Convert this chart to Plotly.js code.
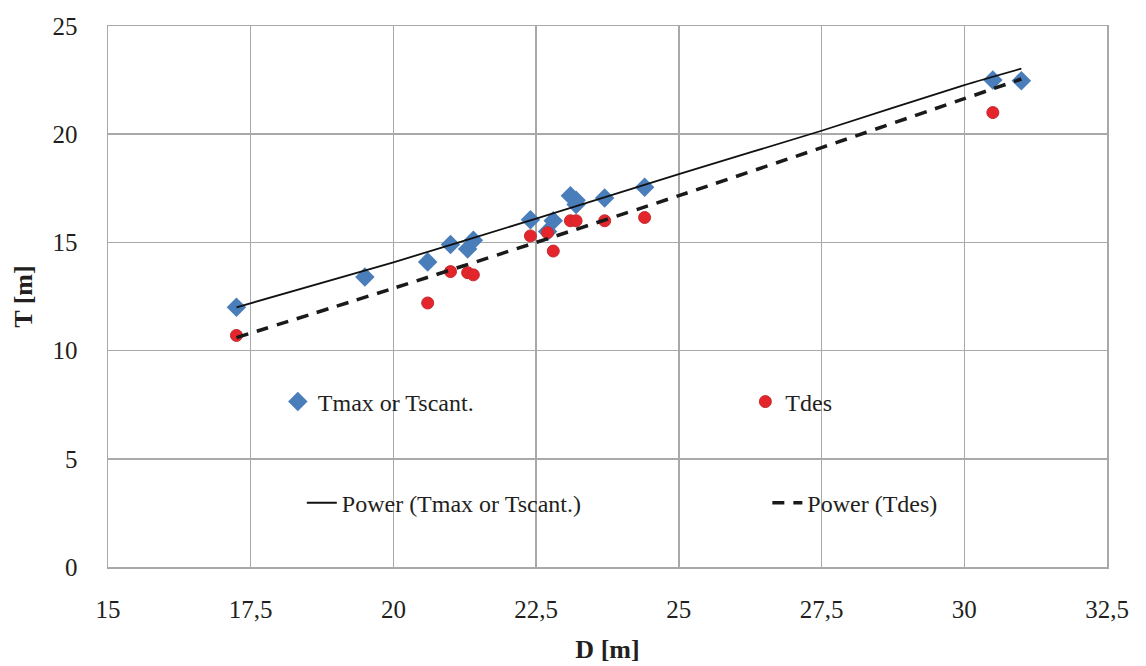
<!DOCTYPE html>
<html>
<head>
<meta charset="utf-8">
<script src="https://cdn.plot.ly/plotly-3.0.1.min.js"></script>
<style>html,body{margin:0;padding:0;background:#fff;}#chart{width:1146px;height:666px;}</style>
</head>
<body>
<div id="chart"></div>
<script>
// Data
const dTmax = [17.25, 19.5, 20.6, 21.0, 21.3, 21.4, 22.4, 22.7, 22.8, 23.1, 23.2, 23.2, 23.7, 24.4, 30.5, 31.0];
const tTmax = [12.0, 13.4, 14.1, 14.9, 14.7, 15.1, 16.05, 15.5, 16.0, 17.15, 16.95, 16.75, 17.05, 17.55, 22.5, 22.47];
const dTdes = [17.25, 20.6, 21.0, 21.3, 21.4, 22.4, 22.7, 22.8, 23.1, 23.2, 23.7, 24.4, 30.5];
const tTdes = [10.7, 12.2, 13.65, 13.6, 13.5, 15.3, 15.45, 14.6, 16.0, 16.0, 16.0, 16.15, 21.0];
// Power trendlines, values at these D positions
const dTrend = [17.25, 20, 22.5, 25, 27.5, 30, 31];
const tTrendTmax = [12.0, 14.08, 16.1, 18.16, 20.16, 22.27, 23.03];
const tTrendTdes = [10.6, 12.88, 15.0, 17.16, 19.38, 21.64, 22.55];
const xTicks = [15, 17.5, 20, 22.5, 25, 27.5, 30, 32.5];
const xTickLabels = ['15', '17,5', '20', '22,5', '25', '27,5', '30', '32,5'];
const yTicks = [0, 5, 10, 15, 20, 25];
const seriesNames = ['Tmax or Tscant.', 'Tdes', 'Power (Tmax or Tscant.)', 'Power (Tdes)'];

const FONT = '"Liberation Serif"';
const TXT = '#231f20';

const traces = [
  {x: dTmax, y: tTmax, name: seriesNames[0], type: 'scatter', mode: 'markers',
   marker: {symbol: 'diamond', size: 15, color: '#4a7ebb'}, legend: 'legend'},
  {x: dTdes, y: tTdes, name: seriesNames[1], type: 'scatter', mode: 'markers',
   marker: {symbol: 'circle', size: 12, color: '#e4252b', line: {color: '#c42a2e', width: 1}}, legend: 'legend2'},
  {x: dTrend, y: tTrendTmax, name: seriesNames[2], type: 'scatter', mode: 'lines',
   line: {color: '#111111', width: 1.8, shape: 'spline', smoothing: 0.6}, legend: 'legend3'},
  {x: dTrend, y: tTrendTdes, name: seriesNames[3], type: 'scatter', mode: 'lines',
   line: {color: '#1a1a1a', width: 3.5, dash: '12px,9px', shape: 'spline', smoothing: 0.6}, legend: 'legend4'}
];

function leg(x, y) {
  return {x: x, xanchor: 'left', y: y, yanchor: 'middle', orientation: 'h',
    bgcolor: 'rgba(0,0,0,0)', borderwidth: 0,
    font: {family: FONT, size: 24, color: TXT}};
}

const layout = {
  width: 1146, height: 666,
  margin: {l: 108, r: 39, t: 26, b: 99},
  paper_bgcolor: '#ffffff', plot_bgcolor: '#ffffff',
  font: {family: FONT, size: 24, color: TXT},
  showlegend: true,
  xaxis: {
    range: [15, 32.5], tickvals: xTicks, ticktext: xTickLabels,
    showgrid: true, gridcolor: '#a9a9a9', gridwidth: 1.5,
    zeroline: false, showline: true, linecolor: '#a9a9a9', linewidth: 1.5, mirror: true,
    ticks: '', ticklabelstandoff: 19,
    tickfont: {family: FONT, size: 25, color: TXT},
    title: {text: '<b>D [m]</b>', font: {family: FONT, size: 26, color: TXT}, standoff: 18}
  },
  yaxis: {
    range: [0, 25], tickvals: yTicks,
    showgrid: true, gridcolor: '#a9a9a9', gridwidth: 1.5,
    zeroline: false, showline: true, linecolor: '#a9a9a9', linewidth: 1.5, mirror: true,
    ticks: '', ticklabelstandoff: 24,
    tickfont: {family: FONT, size: 25, color: TXT},
    title: {text: '<b>T [m]</b>', font: {family: FONT, size: 26, color: TXT}, standoff: 12}
  },
  legend: leg(0.170, 0.305),
  legend2: leg(0.638, 0.305),
  legend3: leg(0.194, 0.118),
  legend4: leg(0.660, 0.118)
};

Plotly.newPlot('chart', traces, layout, {displayModeBar: false, staticPlot: true});
</script>
</body>
</html>
